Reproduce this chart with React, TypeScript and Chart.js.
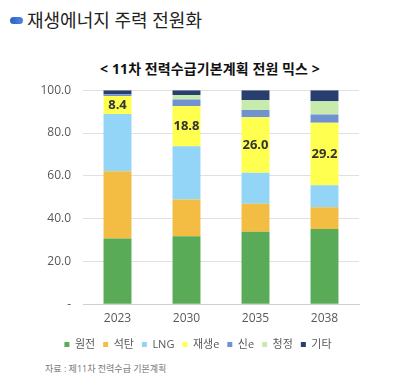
import React, { useEffect, useRef } from "react";
import { Chart, registerables } from "chart.js";

Chart.register(...registerables);

const categories = ["2023", "2030", "2035", "2038"];
const seriesNames = ["원전", "석탄", "LNG", "재생e", "신e", "청정", "기타"];
const nuclear = [30.7, 31.8, 33.9, 35.2];
const coal = [31.4, 17.1, 13.1, 10.1];
const lng = [26.8, 24.9, 14.4, 10.3];
const renewable = [8.4, 18.8, 26.0, 29.2];
const newEnergy = [0.8, 3.0, 3.3, 3.9];
const clean = [0.0, 2.2, 4.7, 6.1];
const other = [1.9, 2.2, 4.6, 5.2];
const yTicks = [0, 20, 40, 60, 80, 100];

const colors = ["#5aab58", "#f2bd42", "#93d5f6", "#ffff50", "#7093d0", "#c9eaad", "#273e6e"];

const FONT = "'Open Sans', 'Noto Sans CJK KR', sans-serif";

const labelPlugin = {
  id: "renewLabels",
  afterDatasetsDraw(chart: any) {
    const ctx = chart.ctx;
    const meta = chart.getDatasetMeta(3);
    ctx.save();
    ctx.font = `bold 13px ${FONT}`;
    ctx.fillStyle = "#333333";
    ctx.textAlign = "center";
    ctx.textBaseline = "middle";
    meta.data.forEach((bar: any, i: number) => {
      const y = (bar.y + bar.base) / 2;
      ctx.fillText(renewable[i].toFixed(1), bar.x, y);
    });
    ctx.restore();
  },
};

export default function App() {
  const ref = useRef<HTMLCanvasElement>(null);
  useEffect(() => {
    if (!ref.current) return;
    const series = [nuclear, coal, lng, renewable, newEnergy, clean, other];
    const chart = new Chart(ref.current, {
      type: "bar",
      data: {
        labels: categories,
        datasets: series.map((d, i) => ({
          label: seriesNames[i],
          data: d,
          backgroundColor: colors[i],
          borderWidth: 0,
          categoryPercentage: 1,
          barPercentage: 0.405,
        })),
      },
      options: {
        animation: false,
        responsive: false,
        maintainAspectRatio: false,
        layout: { padding: { left: 0, right: 0, top: 1, bottom: 0 } },
        scales: {
          x: {
            stacked: true,
            afterFit: (scale: any) => {
              scale.height = 26.7;
            },
            grid: { display: false, drawTicks: false },
            border: { display: true, color: "#d0d0d0" },
            ticks: { color: "#595959", font: { family: FONT, size: 12 }, padding: 7 },
          },
          y: {
            stacked: true,
            min: 0,
            max: 100,
            afterFit: (scale: any) => {
              scale.width = 83;
            },
            afterBuildTicks: (scale: any) => {
              scale.ticks = yTicks.map((v) => ({ value: v }));
            },
            grid: { color: "#e0e0e0", drawTicks: false },
            border: { display: false },
            ticks: {
              color: "#595959",
              font: { family: FONT, size: 12 },
              padding: 12,
              callback: (v: any) => (Number(v) === 0 ? "-" : Number(v).toFixed(1)),
            },
          },
          yRight: {
            position: "right",
            display: true,
            min: 0,
            max: 100,
            afterFit: (scale: any) => {
              scale.width = 37;
            },
            grid: { display: false, drawTicks: false },
            border: { display: false },
            ticks: { display: false },
          },
        },
        plugins: {
          legend: {
            position: "bottom",
            labels: {
              boxWidth: 5,
              boxHeight: 5,
              padding: 8,
              color: "#595959",
              font: { family: FONT, size: 11 },
            },
          },
          tooltip: { enabled: false },
        },
      },
      plugins: [labelPlugin],
    });
    return () => chart.destroy();
  }, []);

  return (
    <div
      style={{
        position: "fixed",
        left: 0,
        top: 0,
        width: 396,
        height: 385,
        background: "#ffffff",
        fontFamily: FONT,
        overflow: "hidden",
      }}
    >
      <div
        style={{
          position: "absolute",
          left: 10,
          top: 17,
          width: 13,
          height: 7,
          borderRadius: 4,
          background: "linear-gradient(90deg, #2f5fc4, #4f86e6)",
        }}
      />
      <div
        style={{
          position: "absolute",
          left: 27,
          top: 6,
          fontSize: 18,
          color: "#222",
          whiteSpace: "nowrap",
          lineHeight: "28px",
        }}
      >
        재생에너지 주력 전원화
      </div>
      <div
        style={{
          position: "absolute",
          left: 0,
          width: 420,
          top: 60,
          textAlign: "center",
          fontSize: 14,
          fontWeight: "bold",
          letterSpacing: 0.1,
          color: "#111",
          whiteSpace: "nowrap",
          lineHeight: "18px",
        }}
      >
        {"< 11차 전력수급기본계획 전원 믹스 >"}
      </div>
      <canvas
        ref={ref}
        width={396}
        height={289}
        style={{ position: "absolute", left: 0, top: 71, width: 396, height: 289 }}
      />
      <div
        style={{
          position: "absolute",
          left: 45,
          top: 362,
          fontSize: 9,
          color: "#777",
          whiteSpace: "nowrap",
          lineHeight: "14px",
        }}
      >
        자료 : 제11차 전력수급 기본계획
      </div>
    </div>
  );
}
